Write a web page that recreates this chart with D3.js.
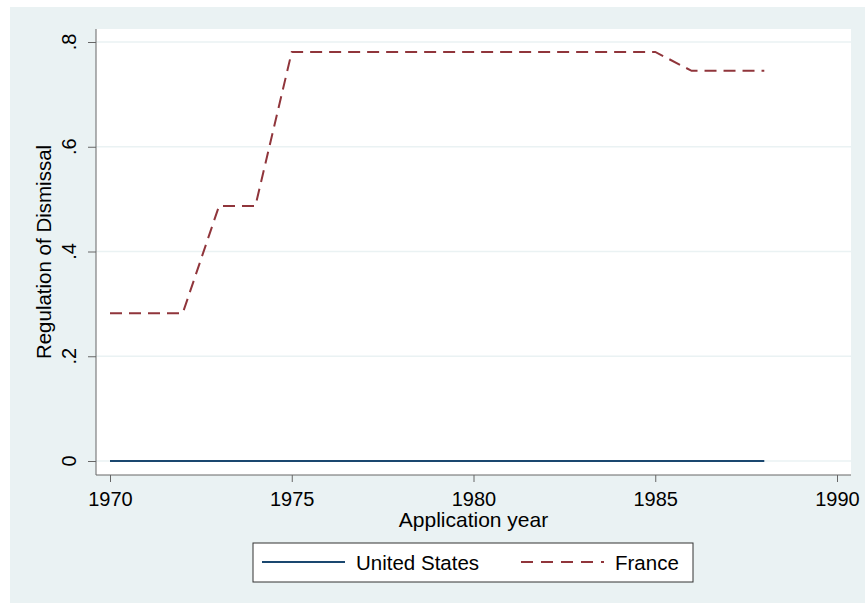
<!DOCTYPE html>
<head>
  <meta charset="utf-8">
  <script src="https://d3js.org/d3.v7.min.js"></script>
  <style>
    body { margin:0; background:#fff; }
    text { font-family: "Liberation Sans", Arial, sans-serif; fill:#000; }
  </style>
</head>
<body>
  <svg id="chart" width="865" height="603"></svg>
  <script>
    // data
    var years = [1970,1971,1972,1973,1974,1975,1976,1977,1978,1979,1980,1981,1982,1983,1984,1985,1986,1987,1988];
    var usValues = [0,0,0,0,0,0,0,0,0,0,0,0,0,0,0,0,0,0,0];
    var franceValues = [0.282,0.282,0.282,0.487,0.487,0.781,0.781,0.781,0.781,0.781,0.781,0.781,0.781,0.781,0.781,0.781,0.745,0.745,0.745];
    var xTicks = [1970,1975,1980,1985,1990];
    var yTicks = [0,0.2,0.4,0.6,0.8];
    var seriesNames = ["United States","France"];

    var svg = d3.select("#chart");

    // outer graph region
    svg.append("rect")
      .attr("x",10).attr("y",7).attr("width",855).attr("height",596)
      .attr("fill","#eaf2f3");

    var plot = {left:96, top:29, right:851, bottom:475};
    svg.append("rect")
      .attr("x",plot.left).attr("y",plot.top)
      .attr("width",plot.right-plot.left).attr("height",plot.bottom-plot.top)
      .attr("fill","#fff");

    var x = d3.scaleLinear().domain([1970,1990]).range([110,837]);
    var y = d3.scaleLinear().domain([0,0.8]).range([461,42]);

    // grid lines
    svg.append("g").selectAll("line")
      .data(yTicks).enter().append("line")
      .attr("x1",plot.left).attr("x2",plot.right)
      .attr("y1",function(d){return y(d);}).attr("y2",function(d){return y(d);})
      .attr("stroke","#eaf2f3").attr("stroke-width",1.5);

    var yFmt = function(d){ return d===0 ? "0" : d3.format(".1f")(d).replace("0.","."); };

    // y axis
    var yAxis = svg.append("g")
      .attr("transform","translate("+plot.left+",0)")
      .call(d3.axisLeft(y).tickValues(yTicks).tickSize(8).tickFormat(""));
    yAxis.select(".domain").attr("d","M0,"+plot.top+"V"+plot.bottom).attr("stroke","#666");
    yAxis.selectAll(".tick line").attr("stroke","#666");
    svg.append("g").selectAll("text")
      .data(yTicks).enter().append("text")
      .attr("transform",function(d){return "translate(76,"+y(d)+") rotate(-90)";})
      .attr("text-anchor","middle")
      .style("font-size","20px")
      .text(yFmt);

    // x axis
    var xAxis = svg.append("g")
      .attr("transform","translate(0,"+plot.bottom+")")
      .call(d3.axisBottom(x).tickValues(xTicks).tickSize(7).tickFormat(d3.format("d")));
    xAxis.select(".domain").attr("d","M"+plot.left+",0H"+plot.right).attr("stroke","#666");
    xAxis.selectAll(".tick line").attr("stroke","#666");
    xAxis.selectAll(".tick text")
      .attr("y",31).attr("dy",null)
      .style("font-size","20px")
      .style("font-family","'Liberation Sans', Arial, sans-serif")
      .attr("fill","#000");

    // axis titles
    svg.append("text")
      .attr("transform","translate(51,"+((plot.top+plot.bottom)/2)+") rotate(-90)")
      .attr("text-anchor","middle")
      .style("font-size","20.5px")
      .text("Regulation of Dismissal");
    svg.append("text")
      .attr("x",(plot.left+plot.right)/2).attr("y",527)
      .attr("text-anchor","middle")
      .style("font-size","21px")
      .text("Application year");

    // lines
    var line = d3.line()
      .x(function(d){return x(d[0]);})
      .y(function(d){return y(d[1]);});

    svg.append("path")
      .datum(d3.zip(years,usValues))
      .attr("d",line)
      .attr("fill","none").attr("stroke","#1a476f").attr("stroke-width",2);

    svg.append("path")
      .datum(d3.zip(years,franceValues))
      .attr("d",line)
      .attr("fill","none").attr("stroke","#90353b").attr("stroke-width",2)
      .attr("stroke-dasharray","12,7");

    // legend
    var leg = svg.append("g");
    leg.append("rect")
      .attr("x",253).attr("y",543).attr("width",440).attr("height",39)
      .attr("fill","#fff").attr("stroke","#333").attr("stroke-width",1);
    var legItems = [
      {name:seriesNames[0], color:"#1a476f", dash:null, x:262},
      {name:seriesNames[1], color:"#90353b", dash:"12,8", x:521}
    ];
    legItems.forEach(function(d){
      leg.append("line")
        .attr("x1",d.x).attr("x2",d.x+83).attr("y1",562).attr("y2",562)
        .attr("stroke",d.color).attr("stroke-width",2)
        .attr("stroke-dasharray",d.dash);
      leg.append("text")
        .attr("x",d.x+94).attr("y",569.5)
        .style("font-size","20.5px")
        .text(d.name);
    });
  </script>
</body>
